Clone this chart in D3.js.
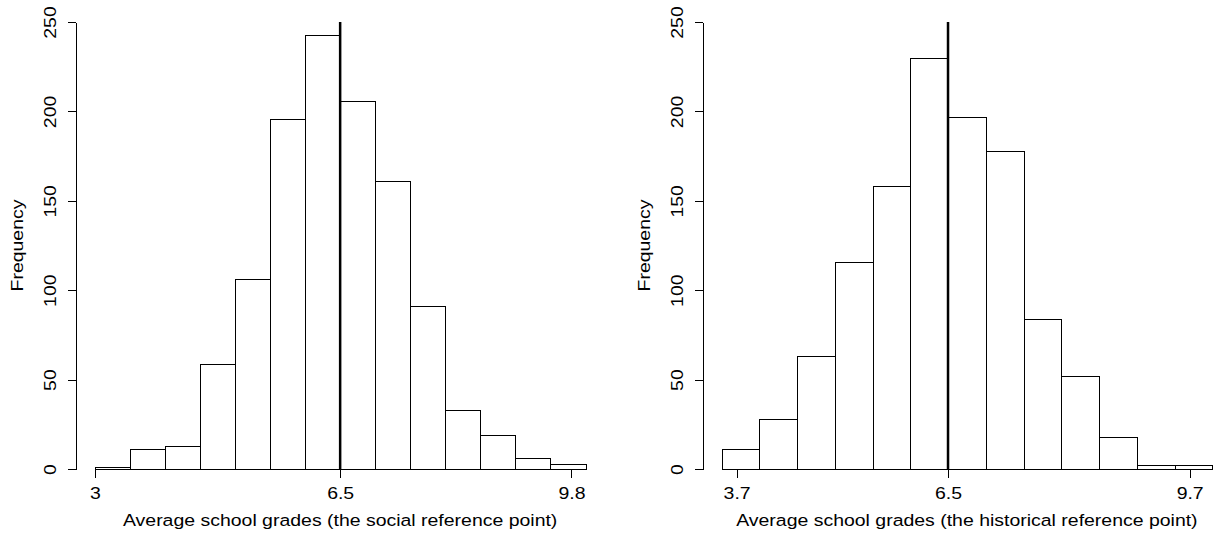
<!DOCTYPE html>
<html>
<head>
<meta charset="utf-8">
<script src="https://cdn.jsdelivr.net/npm/d3@7"></script>
<style>
  html, body { margin: 0; padding: 0; background: #fff; }
  svg { display: block; }
  text { font-family: "Liberation Sans", Arial, sans-serif; fill: #000; }
</style>
</head>
<body>
<svg id="chart" width="1214" height="539"></svg>
<script>
// ---- data ----
const socialEdges = [3, 3.5, 4, 4.5, 5, 5.5, 6, 6.5, 7, 7.5, 8, 8.5, 9, 9.5, 10];
const socialCounts = [1, 11, 13, 59, 106, 196, 243, 206, 161, 91, 33, 19, 6, 3];
const socialTicks = [3, 6.5, 9.8];
const socialLabel = "Average school grades (the social reference point)";

const historicalEdges = [3.5, 4, 4.5, 5, 5.5, 6, 6.5, 7, 7.5, 8, 8.5, 9, 9.5, 10];
const historicalCounts = [11, 28, 63, 116, 158, 230, 197, 178, 84, 52, 18, 2, 2];
const historicalTicks = [3.7, 6.5, 9.7];
const historicalLabel = "Average school grades (the historical reference point)";

const yTicks = [0, 50, 100, 150, 200, 250];
const yLabel = "Frequency";
const referenceValue = 6.5;

// ---- drawing ----
const svg = d3.select("#chart");
const FS = 16.5;      // glyph height
const SX = 1.18;      // horizontal stretch of the glyphs (reference text is wide)
const FONT = '"Liberation Sans", Arial, sans-serif';

function panel(opts) {
  const { edges, counts, ticks, label, xRange } = opts;
  const x = d3.scaleLinear().domain([edges[0], edges[edges.length - 1]]).range(xRange);
  const y = d3.scaleLinear().domain([0, 250]).range([469, 22]);
  const span = edges[edges.length - 1] - edges[0];
  const regionLeft = x(edges[0] - span * 0.04);
  const regionRight = x(edges[edges.length - 1] + span * 0.04);

  const g = svg.append("g");
  const bins = counts.map((c, i) => ({ x0: edges[i], x1: edges[i + 1], c }));

  g.selectAll("rect.bar").data(bins).join("rect")
    .attr("class", "bar")
    .attr("x", d => Math.round(x(d.x0)) + 0.5)
    .attr("y", d => Math.round(y(d.c)) + 0.5)
    .attr("width", d => Math.round(x(d.x1)) - Math.round(x(d.x0)))
    .attr("height", d => Math.round(y(0)) - Math.round(y(d.c)))
    .attr("fill", "#fff")
    .attr("stroke", "#000")
    .attr("stroke-width", 1);

  // reference line
  g.append("line")
    .attr("x1", x(referenceValue)).attr("x2", x(referenceValue))
    .attr("y1", y(0)).attr("y2", y(250))
    .attr("stroke", "#000").attr("stroke-width", 2.5);

  // y axis
  const yAxisX = Math.round(regionLeft) + 0.5;
  const ya = g.append("g")
    .attr("transform", `translate(${yAxisX},0)`)
    .call(d3.axisLeft(y).tickValues(yTicks).tickSize(8).tickSizeOuter(0));
  ya.selectAll("path, line").attr("stroke", "#000").attr("shape-rendering", "crispEdges");
  ya.selectAll("text")
    .attr("x", null).attr("dy", null)
    .attr("transform", `translate(-19.5,0) rotate(-90) scale(${SX},1)`)
    .attr("text-anchor", "middle")
    .style("font-size", FS + "px")
    .style("font-family", FONT);

  // x axis
  const xAxisY = Math.round(y(0)) + 0.5;
  const xa = g.append("g")
    .attr("transform", `translate(0,${xAxisY})`)
    .call(d3.axisBottom(x).tickValues(ticks).tickSize(8).tickFormat(d3.format("")));
  xa.select("path.domain").remove();
  xa.append("line")
    .attr("x1", x(ticks[0])).attr("x2", x(ticks[ticks.length - 1]))
    .attr("y1", 0).attr("y2", 0)
    .attr("stroke", "#000");
  xa.selectAll("line").attr("stroke", "#000").attr("shape-rendering", "crispEdges");
  xa.selectAll("text")
    .attr("y", null).attr("dy", null)
    .attr("transform", `translate(0,29) scale(${SX},1)`)
    .style("font-size", FS + "px")
    .style("font-family", FONT);

  // axis titles
  g.append("text")
    .attr("transform", `translate(${(regionLeft + regionRight) / 2},525.5) scale(${SX},1)`)
    .attr("text-anchor", "middle")
    .style("font-size", FS + "px")
    .text(label);

  g.append("text")
    .attr("transform", `translate(${yAxisX - 52.5},${(y(0) + y(250)) / 2}) rotate(-90) scale(${SX},1)`)
    .attr("text-anchor", "middle")
    .style("font-size", FS + "px")
    .text(yLabel);
}

panel({ edges: socialEdges, counts: socialCounts, ticks: socialTicks, label: socialLabel, xRange: [94.8, 585.5] });
panel({ edges: historicalEdges, counts: historicalCounts, ticks: historicalTicks, label: historicalLabel, xRange: [721.5, 1212.3] });
</script>
</body>
</html>
